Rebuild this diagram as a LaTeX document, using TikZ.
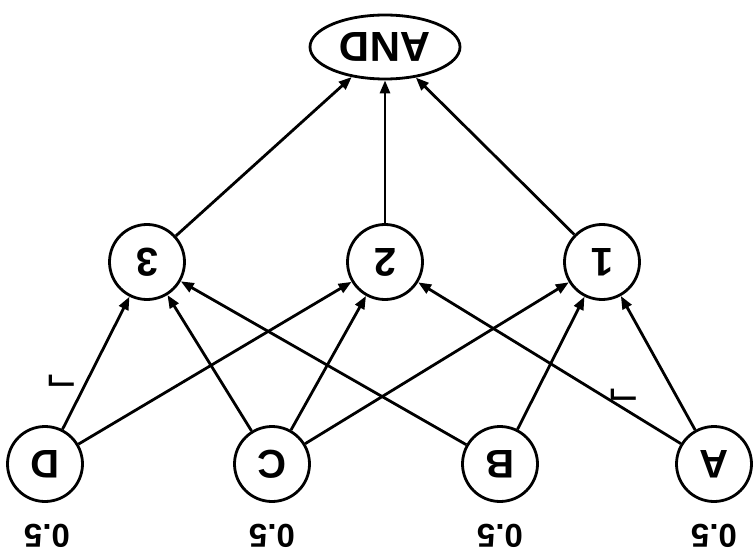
\documentclass[tikz,border=0pt]{standalone}
\usepackage{fontspec}
\setmainfont{Liberation Sans}
\newfontfamily\symfont{DejaVu Sans}
\usetikzlibrary{arrows.meta,shapes.geometric}
\begin{document}
\begin{tikzpicture}[x=1pt,y=-1pt,
  lbl/.style={rotate=180, inner sep=0pt, font=\fontsize{33}{33}\selectfont\bfseries},
  var/.style={circle, draw, rotate=180, line width=2.8pt, minimum size=75pt, inner sep=0pt,
              font=\fontsize{40}{40}\selectfont\bfseries},
  gate/.style={ellipse, draw, rotate=180, line width=2.8pt, minimum width=150pt, minimum height=64pt,
               inner sep=0pt, font=\fontsize{42}{42}\selectfont\bfseries},
  neg/.style={rotate=180, inner sep=0pt, font=\fontsize{40}{40}\symfont},
  edge/.style={line width=2.8pt, -{Triangle[length=13pt,width=10pt]}}
]
\useasboundingbox (0,0) rectangle (755,556);

% output gate
\node[gate] (and) at (385,47) {AND};

% hidden layer
\node[var] (h3) at (147,262) {3};
\node[var] (h2) at (385,262) {2};
\node[var] (h1) at (602,262) {1};

% inputs
\node[var] (D) at (45,464) {D};
\node[var] (C) at (272,464) {C};
\node[var] (B) at (500,464) {B};
\node[var] (A) at (714,464) {A};

% input probabilities
\node[lbl] (pD) at (47,536) {0.5};
\node[lbl] (pC) at (272,536) {0.5};
\node[lbl] (pB) at (500,536) {0.5};
\node[lbl] (pA) at (714,536) {0.5};

% negation marks (U+00AC)
\node[neg] (nD) at (62,378) {\symbol{"AC}};
\node[neg] (nA) at (624,392) {\symbol{"AC}};

% connections
\draw[edge] (D) -- (h3);
\draw[edge] (D) -- (h2);
\draw[edge] (C) -- (h3);
\draw[edge] (C) -- (h2);
\draw[edge] (C) -- (h1);
\draw[edge] (B) -- (h3);
\draw[edge] (B) -- (h1);
\draw[edge] (A) -- (h2);
\draw[edge] (A) -- (h1);
\draw[edge] (h3) -- (and);
\draw[edge] (h2) -- (and);
\draw[edge] (h1) -- (and);
\end{tikzpicture}
\end{document}
